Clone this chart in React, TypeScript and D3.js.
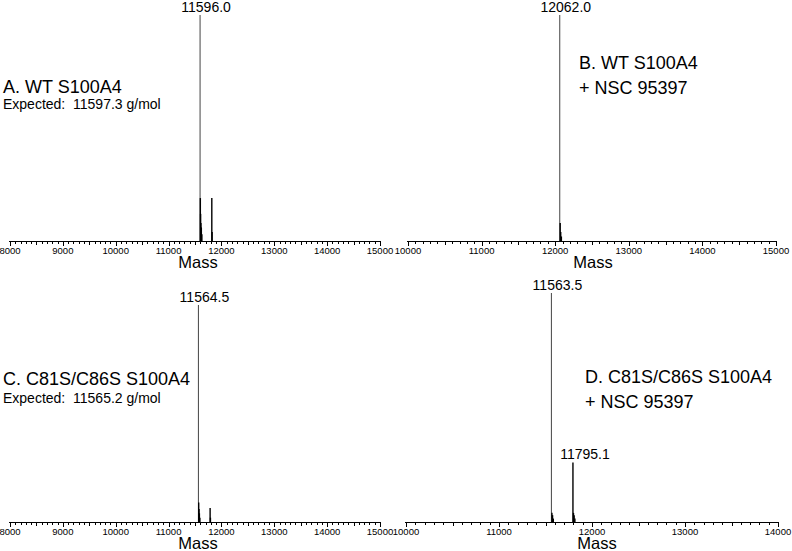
import * as d3 from "d3";
import React, { useRef, useEffect } from "react";

// deconvoluted mass spectra: peak masses (Da) and relative intensity (%)
const massA = [11596.0, 11601, 11606, 11612, 11620, 11630, 11818, 11824];
const intA = [100, 19, 12, 8, 6, 3, 19, 4];
const massB = [12062.0, 12068, 12075, 12084];
const intB = [100, 8, 4, 2];
const massC = [11564.5, 11570, 11576, 11583, 11592, 11786, 11792];
const intC = [100, 9, 6, 4, 2, 6.5, 2];
const massD = [11563.5, 11569, 11576, 11584, 11795.1, 11801, 11808, 11816];
const intD = [100, 4, 3, 1.5, 26, 4, 3, 1.5];

const domainA = [8000, 15000];
const domainB = [10000, 15000];
const domainC = [8000, 15000];
const domainD = [10000, 14000];

const labelsA = ["11596.0"];
const labelsB = ["12062.0"];
const labelsC = ["11564.5"];
const labelsD = ["11563.5", "11795.1"];

const titlesA = ["A. WT S100A4", "Expected:  11597.3 g/mol"];
const titlesB = ["B. WT S100A4", "+ NSC 95397"];
const titlesC = ["C. C81S/C86S S100A4", "Expected:  11565.2 g/mol"];
const titlesD = ["D. C81S/C86S S100A4", "+ NSC 95397"];

const font = "'Liberation Sans', Arial, Helvetica, sans-serif";

const panels = [
  { mass: massA, inten: intA, domain: domainA, labels: labelsA, titles: titlesA,
    x0: 10, x1: 380, axisY: 241, topY: 15, tx: 3, ty: [93, 109], mx: 198, my: 268 },
  { mass: massB, inten: intB, domain: domainB, labels: labelsB, titles: titlesB,
    x0: 408, x1: 776, axisY: 241, topY: 15, tx: 579, ty: [69, 94], mx: 593, my: 268 },
  { mass: massC, inten: intC, domain: domainC, labels: labelsC, titles: titlesC,
    x0: 10, x1: 380, axisY: 522, topY: 305, tx: 3, ty: [385, 403], mx: 198, my: 549 },
  { mass: massD, inten: intD, domain: domainD, labels: labelsD, titles: titlesD,
    x0: 406, x1: 778, axisY: 522, topY: 293, tx: 585, ty: [383, 408], mx: 597, my: 549 },
];

const draw = (node) => {
  const svg = d3.select(node);
  svg.selectAll("*").remove();

  panels.forEach((p) => {
    const x = d3.scaleLinear().domain(p.domain).range([p.x0, p.x1]);
    const y = d3.scaleLinear().domain([0, 100]).range([p.axisY, p.topY]);
    const g = svg.append("g");

    // axis line + ticks every 100, bigger every 500 / 1000
    g.append("line")
      .attr("x1", p.x0 - 1)
      .attr("x2", p.x1 + 1)
      .attr("y1", p.axisY + 0.5)
      .attr("y2", p.axisY + 0.5)
      .style("stroke", "#000")
      .style("stroke-width", 1.2);

    const minor = d3.range(p.domain[0], p.domain[1] + 1, 100);
    g.selectAll(".tick")
      .data(minor)
      .enter()
      .append("line")
      .attr("x1", (d) => Math.round(x(d)) + 0.5)
      .attr("x2", (d) => Math.round(x(d)) + 0.5)
      .attr("y1", p.axisY)
      .attr("y2", (d) => p.axisY + (d % 1000 === 0 ? 5 : d % 500 === 0 ? 4 : 3))
      .style("stroke", "#000")
      .style("stroke-width", 1);

    const major = d3.range(p.domain[0], p.domain[1] + 1, 1000);
    g.selectAll(".tl")
      .data(major)
      .enter()
      .append("text")
      .attr("x", (d) => x(d))
      .attr("y", p.axisY + 13)
      .style("font-family", font)
      .style("font-size", "9.5px")
      .style("text-anchor", "middle")
      .text((d) => d);

    g.append("text")
      .attr("x", p.mx)
      .attr("y", p.my)
      .style("font-family", font)
      .style("font-size", "16.5px")
      .style("text-anchor", "middle")
      .text("Mass");

    // stick spectrum
    g.selectAll(".pk")
      .data(p.mass.map((m, i) => [m, p.inten[i]]))
      .enter()
      .append("line")
      .attr("x1", (d) => x(d[0]))
      .attr("x2", (d) => x(d[0]))
      .attr("y1", p.axisY)
      .attr("y2", (d) => y(d[1]))
      .style("stroke", (d) => (d[1] > 50 ? "#444" : "#000"))
      .style("stroke-width", (d) => (d[1] > 50 ? 1 : 1.4));

    p.labels.forEach((lab) => {
      const m = +lab;
      const i = p.mass.indexOf(m);
      g.append("text")
        .attr("x", x(m) + (p.inten[i] > 50 ? 6 : 12))
        .attr("y", y(p.inten[i]) - 3)
        .style("font-family", font)
        .style("font-size", "14px")
        .style("text-anchor", "middle")
        .text(lab);
    });

    p.titles.forEach((t, i) => {
      const sub = t.startsWith("Expected");
      g.append("text")
        .attr("x", p.tx)
        .attr("y", p.ty[i])
        .style("font-family", font)
        .style("font-size", sub ? "14px" : "18px")
        .style("white-space", "pre")
        .text(t);
    });
  });
};

const App = () => {
  const ref = useRef(null);
  useEffect(() => {
    draw(ref.current);
  }, []);
  return (
    <svg
      ref={ref}
      width={792}
      height={551}
      style={{ position: "absolute", left: 0, top: 0, background: "#fff" }}
    />
  );
};

export default App;
